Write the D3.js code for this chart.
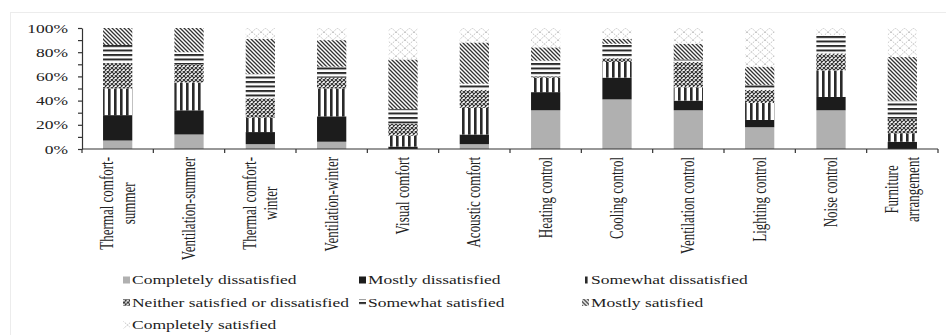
<!DOCTYPE html>
<html>
<head>
<meta charset="utf-8">
<script src="https://cdn.jsdelivr.net/npm/d3@7"></script>
<style>
  body { margin: 0; background: #fff; }
  svg { display: block; font-family: "Liberation Serif", "Times New Roman", serif; }
  .axis path, .axis line { stroke: #333; stroke-width: 1.2; }
  .axis text { fill: #222; font-size: 12.5px; font-family: "Liberation Serif", serif; }
</style>
</head>
<body>
<div id="chart"></div>
<script>
// categories on the x axis ("\n" marks a line break)
var categories = ["Thermal comfort-\nsummer", "Ventilation-summer", "Thermal comfort-\nwinter",
    "Ventilation-winter", "Visual comfort", "Acoustic comfort", "Heating control",
    "Cooling control", "Ventilation control", "Lighting control", "Noise control",
    "Furniture\narrangement"];

// share of answers (%) per category, bottom to top
var completelyDissatisfied = [7, 12, 4, 6, 0, 4, 32, 41, 32, 18, 32, 0];
var mostlyDissatisfied     = [21, 20, 10, 21, 2, 8, 15, 18, 8, 6, 11, 6];
var somewhatDissatisfied   = [22, 23, 12, 23, 9, 22, 12, 13, 11, 14, 22, 7];
var neither                = [21, 15, 16, 9, 10, 15, 1, 3, 21, 11, 14, 12];
var somewhatSatisfied      = [15, 10, 20, 9, 12, 5, 13, 12, 2, 4, 15, 15];
var mostlySatisfied        = [14, 20, 29, 22, 41, 34, 11, 4, 13, 15, 0, 36];
var completelySatisfied    = [0, 0, 9, 10, 26, 12, 16, 9, 13, 32, 6, 24];

var seriesNames = ["Completely dissatisfied", "Mostly dissatisfied", "Somewhat dissatisfied",
    "Neither satisfied or dissatisfied", "Somewhat satisfied", "Mostly satisfied",
    "Completely satisfied"];
var seriesValues = [completelyDissatisfied, mostlyDissatisfied, somewhatDissatisfied,
    neither, somewhatSatisfied, mostlySatisfied, completelySatisfied];

var yTicks = [0, 10, 20, 30, 40, 50, 60, 70, 80, 90, 100];

// the picture is stretched sideways, so is its text
var stretch = 1.4;

var W = 946, H = 335;
var svg = d3.select("#chart").append("svg")
    .attr("width", W)
    .attr("height", H);

// fill patterns
var defs = svg.append("defs");
function pattern(id, w, h) {
    var p = defs.append("pattern")
        .attr("id", id)
        .attr("patternUnits", "userSpaceOnUse")
        .attr("width", w)
        .attr("height", h);
    p.append("rect").attr("width", w).attr("height", h).attr("fill", "#fff");
    return p;
}
pattern("p-vert", 6, 6).append("rect")
    .attr("width", 2.6).attr("height", 6).attr("fill", "#2a2a2a");
pattern("p-check", 4, 4).append("path")
    .attr("d", "M0,0L4,4M4,0L0,4")
    .attr("stroke", "#333").attr("stroke-width", 1.2);
pattern("p-horiz", 6, 4.5).append("rect")
    .attr("width", 6).attr("height", 2).attr("fill", "#2a2a2a");
pattern("p-diag", 4, 4).append("path")
    .attr("d", "M0,0L4,4M-1,3L1,5M3,-1L5,1")
    .attr("stroke", "#333").attr("stroke-width", 1.3);
pattern("p-light", 9, 8).append("path")
    .attr("d", "M0,0L9,8M9,0L0,8")
    .attr("stroke", "#bdbdbd").attr("stroke-width", 0.9)
    .attr("stroke-dasharray", "1.5,1");

var fills = ["#b0b0b0", "#1c1c1c", "url(#p-vert)", "url(#p-check)",
    "url(#p-horiz)", "url(#p-diag)", "url(#p-light)"];

// faint frame of the chart area
svg.append("rect")
    .attr("x", 10.5).attr("y", 12.5)
    .attr("width", W - 10).attr("height", H - 12)
    .attr("fill", "none")
    .attr("stroke", "#ececec");

// scales
var x = d3.scaleBand()
    .domain(categories)
    .range([82, 938])
    .paddingInner(0.59)
    .paddingOuter(0.295);

var y = d3.scaleLinear()
    .domain([0, 100])
    .range([149, 28]);

// stack the series
var table = categories.map(function (c, i) {
    var row = { cat: c };
    seriesNames.forEach(function (s, j) { row[s] = seriesValues[j][i]; });
    return row;
});
var stacked = d3.stack().keys(seriesNames)(table);

svg.append("g")
    .selectAll("g")
    .data(stacked)
    .enter()
    .append("g")
    .attr("fill", function (d, i) { return fills[i]; })
    .selectAll("rect")
    .data(function (d) { return d; })
    .enter()
    .append("rect")
    .attr("x", function (d) { return x(d.data.cat); })
    .attr("width", x.bandwidth())
    .attr("y", function (d) { return y(d[1]); })
    .attr("height", function (d) { return y(d[0]) - y(d[1]); });

// y axis
var yAxis = svg.append("g")
    .attr("class", "axis")
    .attr("transform", "translate(" + x.range()[0] + ",0)")
    .call(d3.axisLeft(y)
        .tickValues(yTicks)
        .tickSize(4)
        .tickPadding(6)
        .tickSizeOuter(0)
        .tickFormat(function (d) { return d % 20 === 0 ? d + "%" : ""; }));
yAxis.selectAll("text")
    .attr("transform", "scale(" + stretch + ",1)");

// x axis: line and ticks between the categories
var step = x.step();
var bounds = d3.range(categories.length + 1).map(function (i) {
    return x.range()[0] + i * step;
});
var xAxis = svg.append("g").attr("class", "axis");
xAxis.append("line")
    .attr("x1", x.range()[0]).attr("x2", x.range()[1])
    .attr("y1", y(0)).attr("y2", y(0));
xAxis.selectAll(".xt")
    .data(bounds)
    .enter()
    .append("line")
    .attr("class", "xt")
    .attr("x1", function (d) { return d; })
    .attr("x2", function (d) { return d; })
    .attr("y1", y(0))
    .attr("y2", y(0) + 4);

// rotated category labels
var labels = svg.append("g")
    .selectAll("g")
    .data(categories)
    .enter()
    .append("g")
    .attr("transform", function (d) {
        return "translate(" + (x(d) + x.bandwidth() / 2) + "," + (y(0) + 8) + ") scale(" + stretch + ",1) rotate(-90)";
    });
labels.each(function (d) {
    var g = d3.select(this);
    var lines = d.split("\n");
    var t = g.selectAll("text")
        .data(lines)
        .enter()
        .append("text")
        .attr("font-size", "13px")
        .attr("fill", "#222")
        .attr("text-anchor", "middle")
        .attr("dy", function (l, i) { return (i - (lines.length - 1) / 2) * 15.5 + 4.3 + "px"; })
        .text(function (l) { return l; });
    var maxW = 0;
    t.each(function () { maxW = Math.max(maxW, this.getComputedTextLength()); });
    t.attr("x", -maxW / 2);
});

// legend
var legendCols = [132, 368, 591];
var legendRows = [284, 306.5, 329];
var legend = svg.append("g")
    .selectAll("g")
    .data(seriesNames)
    .enter()
    .append("g")
    .attr("transform", function (d, i) {
        return "translate(" + legendCols[i % 3] + "," + legendRows[Math.floor(i / 3)] + ")";
    });
legend.append("rect")
    .attr("x", -9).attr("y", -7.5)
    .attr("width", 7).attr("height", 7)
    .attr("fill", function (d, i) { return fills[i]; });
legend.append("text")
    .attr("transform", "scale(" + stretch + ",1)")
    .attr("font-size", "12.5px")
    .attr("fill", "#222")
    .text(function (d) { return d; });
</script>
</body>
</html>
